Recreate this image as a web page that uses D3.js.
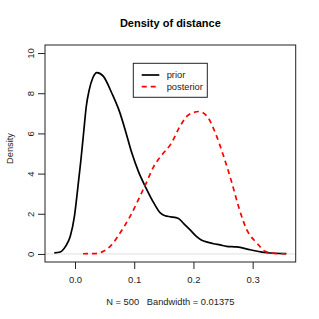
<!DOCTYPE html>
<html>
<head>
<meta charset="utf-8">
<script src="https://cdn.jsdelivr.net/npm/d3@7.9.0/dist/d3.min.js"></script>
<style>
  body { margin: 0; background: #fff; }
  svg { display: block; font-family: "Liberation Sans", Arial, sans-serif; }
</style>
</head>
<body>
<svg id="chart" width="319" height="319"></svg>
<script>
// density estimates
const priorX = [-0.035, -0.025, -0.016, -0.008, -0.001, 0.005, 0.010, 0.0145, 0.019, 0.024, 0.030, 0.037, 0.048, 0.062, 0.076, 0.084, 0.096, 0.107, 0.120, 0.133, 0.144, 0.152, 0.162, 0.174, 0.184, 0.194, 0.204, 0.214, 0.225, 0.234, 0.245, 0.256, 0.273, 0.296, 0.324, 0.357];
const priorY = [0.05, 0.1, 0.38, 0.88, 1.87, 3.36, 4.69, 6.02, 7.34, 8.17, 8.76, 9.03, 8.84, 8.01, 7.01, 6.25, 5.02, 4.11, 3.28, 2.54, 2.04, 1.9, 1.85, 1.78, 1.5, 1.21, 0.9, 0.68, 0.58, 0.51, 0.45, 0.38, 0.35, 0.21, 0.06, 0.02];
const postX = [0.0135, 0.034, 0.048, 0.062, 0.076, 0.093, 0.107, 0.119, 0.133, 0.147, 0.162, 0.178, 0.192, 0.210, 0.225, 0.237, 0.251, 0.265, 0.276, 0.290, 0.307, 0.321, 0.340, 0.357];
const postY = [0.01, 0.02, 0.13, 0.46, 1.04, 1.87, 2.70, 3.45, 4.36, 4.94, 5.48, 6.39, 6.93, 7.09, 6.77, 6.02, 4.86, 3.53, 2.37, 1.21, 0.55, 0.13, 0.02, 0.01];
const xTicks = [0.0, 0.1, 0.2, 0.3];
const yTicks = [0, 2, 4, 6, 8, 10];
const seriesNames = ['prior', 'posterior'];

const W = 319, H = 319;
const margin = { top: 45, right: 23.3, bottom: 57, left: 45 };
const svg = d3.select('#chart');

// R style: extend ranges by 4%
let xr = d3.extent(priorX.concat(postX));
let xpad = (xr[1] - xr[0]) * 0.04;
let x = d3.scaleLinear().domain([xr[0] - xpad, xr[1] + xpad]).range([margin.left, W - margin.right]);
let y = d3.scaleLinear().domain([-0.4, 10.4]).range([H - margin.bottom, margin.top]);

// zero line
svg.append('line')
  .attr('x1', margin.left).attr('x2', W - margin.right)
  .attr('y1', y(0)).attr('y2', y(0))
  .attr('stroke', '#d8d8d8').attr('stroke-width', 0.8);

let line = d3.line().x((d) => x(d[0])).y((d) => y(d[1])).curve(d3.curveMonotoneX);

svg.append('path')
  .attr('d', line(priorX.map((v, i) => [v, priorY[i]])))
  .attr('fill', 'none').attr('stroke', '#000').attr('stroke-width', 1.7);

svg.append('path')
  .attr('d', line(postX.map((v, i) => [v, postY[i]])))
  .attr('fill', 'none').attr('stroke', '#ff0000').attr('stroke-width', 1.7)
  .attr('stroke-dasharray', '5,4');

// box
svg.append('rect')
  .attr('x', margin.left).attr('y', margin.top)
  .attr('width', W - margin.left - margin.right)
  .attr('height', H - margin.top - margin.bottom)
  .attr('fill', 'none').attr('stroke', '#222').attr('stroke-width', 1);

// axes
let xAxis = svg.append('g')
  .attr('transform', `translate(0,${H - margin.bottom})`)
  .call(d3.axisBottom(x).tickValues(xTicks).tickFormat(d3.format('.1f')).tickSize(7).tickSizeOuter(0));
xAxis.select('.domain').remove();
xAxis.selectAll('.tick line').attr('stroke', '#222');
xAxis.selectAll('.tick text')
  .attr('y', 20.7).attr('dy', 0)
  .attr('font-size', 9.5).attr('font-family', null).attr('fill', '#222');

let yAxis = svg.append('g')
  .attr('transform', `translate(${margin.left},0)`)
  .call(d3.axisLeft(y).tickValues(yTicks).tickSize(7).tickSizeOuter(0));
yAxis.select('.domain').remove();
yAxis.selectAll('.tick line').attr('stroke', '#222');
yAxis.selectAll('.tick text')
  .attr('transform', 'rotate(-90)')
  .attr('x', 0).attr('y', -11.5).attr('dy', 0)
  .attr('text-anchor', 'middle')
  .attr('font-size', 9.5).attr('font-family', null).attr('fill', '#222');

// titles
svg.append('text')
  .attr('x', (margin.left + W - margin.right) / 2).attr('y', 26.5)
  .attr('text-anchor', 'middle').attr('font-size', 11).attr('font-weight', 'bold')
  .text('Density of distance');

svg.append('text')
  .attr('x', (margin.left + W - margin.right) / 2).attr('y', 305)
  .attr('text-anchor', 'middle').attr('font-size', 9.3).attr('fill', '#222')
  .style('white-space', 'pre')
  .text('N = 500   Bandwidth = 0.01375');

svg.append('text')
  .attr('transform', `translate(12.5,${(margin.top + H - margin.bottom) / 2 - 5}) rotate(-90)`)
  .attr('text-anchor', 'middle').attr('font-size', 9.3).attr('fill', '#222')
  .text('Density');

// legend
let legend = svg.append('g');
legend.append('rect')
  .attr('x', 133.3).attr('y', 63.3).attr('width', 74).attr('height', 34)
  .attr('fill', '#fff').attr('stroke', '#222').attr('stroke-width', 1);
seriesNames.forEach((name, idx) => {
  let ly = 75 + idx * 11.7;
  legend.append('line')
    .attr('x1', 141.7).attr('x2', 159.3).attr('y1', ly).attr('y2', ly)
    .attr('stroke', idx === 0 ? '#000' : '#ff0000').attr('stroke-width', 1.7)
    .attr('stroke-dasharray', idx === 0 ? null : '5,4');
  legend.append('text')
    .attr('x', 166.7).attr('y', ly + 3.3)
    .attr('font-size', 9.3).attr('fill', '#222')
    .text(name);
});
</script>
</body>
</html>
